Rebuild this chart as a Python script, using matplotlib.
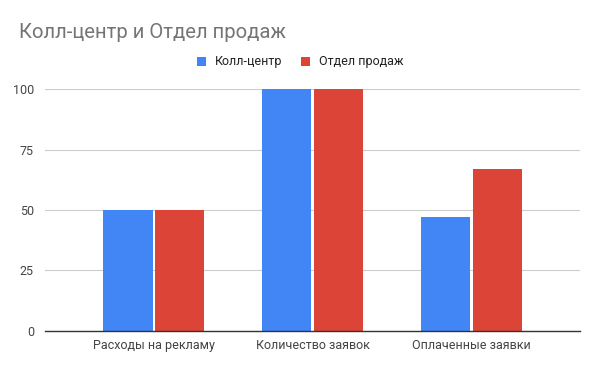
import matplotlib
matplotlib.use("Agg")
from matplotlib import pyplot as plt
import numpy as np

plt.rcParams['font.family'] = ['Roboto', 'DejaVu Sans']

categories = ["Расходы на рекламу", "Количество заявок", "Оплаченные заявки"]
call_center = [50, 100, 47]
sales_dept = [50, 100, 67]
series_names = ["Колл-центр", "Отдел продаж"]
y_ticks = [0, 25, 50, 75, 100]

blue = "#4285F4"
red = "#DB4437"

figure = plt.figure(figsize=(6, 3.71), dpi=100)
axes = figure.add_axes([0.075, 0.1086, 0.892, 0.6505])

x = np.arange(len(categories))
width = 0.31
axes.bar(x - width / 2 - 0.007, call_center, width, color=blue, label=series_names[0])
axes.bar(x + width / 2 + 0.007, sales_dept, width, color=red, label=series_names[1])

axes.set_xlim(-0.685, 2.685)
axes.set_ylim(0, 100)
axes.set_yticks(y_ticks)
axes.set_xticks(x)
axes.set_xticklabels(categories)
axes.tick_params(axis="x", length=0, labelsize=9, colors="#444444", pad=6)
axes.tick_params(axis="y", length=0, labelsize=9, colors="#444444", pad=8)
axes.yaxis.grid(True, color="#cccccc", linewidth=0.8)
axes.set_axisbelow(True)
for side in ["top", "right", "left"]:
    axes.spines[side].set_visible(False)
axes.spines["bottom"].set_color("#333333")
axes.spines["bottom"].set_linewidth(1)

figure.text(0.032, 1 - 33 / 371, "Колл-центр и Отдел продаж", fontsize=14.6,
            color="#757575", va="center", ha="left")

figure.legend(loc="center", bbox_to_anchor=(0.5, 1 - 62 / 371), ncol=2,
              frameon=False, fontsize=9, handlelength=0.75, handleheight=0.75,
              columnspacing=1.5, handletextpad=0.7, labelcolor="#222222")

figure.savefig("out.png", dpi=100)
